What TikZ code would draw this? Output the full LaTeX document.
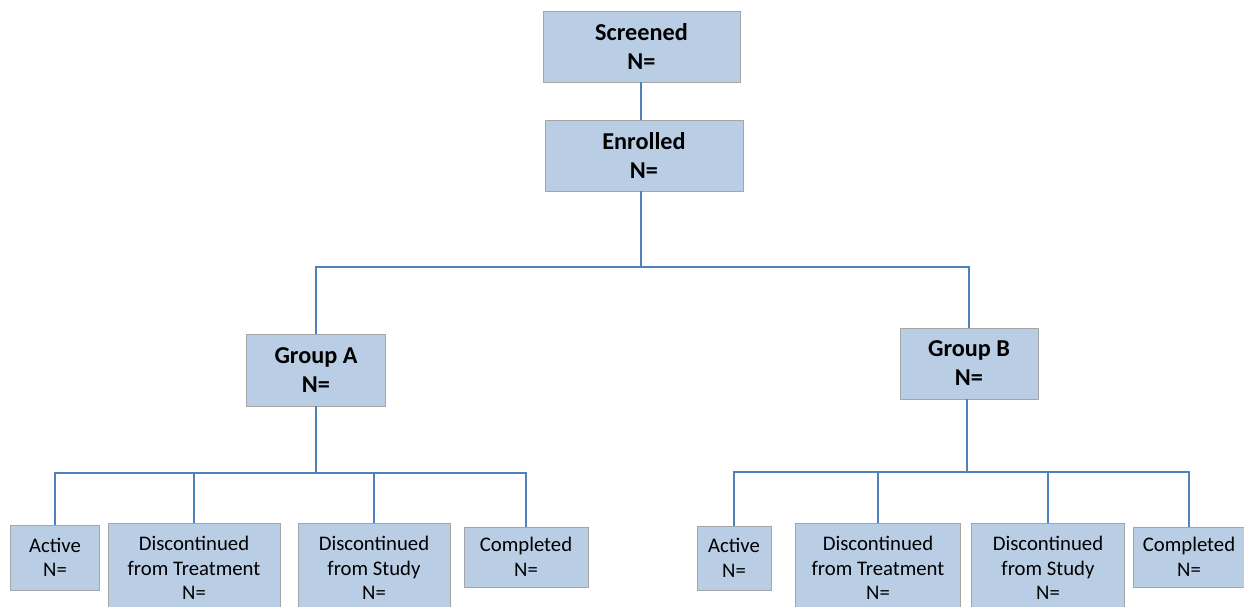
\documentclass[tikz,border=0pt]{standalone}
\usepackage{fontspec}
\setmainfont{Carlito}
\usetikzlibrary{arrows}
\usetikzlibrary{shapes}
\definecolor{boxFill}{HTML}{B9CDE5}
\definecolor{boxLine}{HTML}{A6A6A6}
\definecolor{edgeBlue}{HTML}{4F81BD}

\begin{document}
\begin{tikzpicture}[x = 0.02cm, y = -0.02cm]
	\tikzstyle{BoxStyle} = [shape = rectangle, draw = boxLine, line width = 0.5pt, fill = boxFill, inner sep = 0pt, align = center]
	\tikzstyle{bigStyle} = [BoxStyle, font = \fontsize{13.8}{16.5}\selectfont\bfseries]
	\tikzstyle{smallStyle} = [BoxStyle, font = \fontsize{11.8}{14}\selectfont]
	\tikzstyle{EdgeStyle} = [draw = edgeBlue, line width = 1.1pt]
	\useasboundingbox (0,0) rectangle (1244,606);
	\node[bigStyle, minimum width = 3.94cm, minimum height = 1.42cm] (v0) at (641.5,46.5) {Screened\\N=};
	\node[bigStyle, minimum width = 3.96cm, minimum height = 1.42cm] (v1) at (644,155.5) {Enrolled\\N=};
	\node[bigStyle, minimum width = 2.78cm, minimum height = 1.44cm] (v2) at (316,370) {Group A\\N=};
	\node[bigStyle, minimum width = 2.76cm, minimum height = 1.42cm] (v3) at (969,363.5) {Group B\\N=};
	\node[smallStyle, minimum width = 1.78cm, minimum height = 1.30cm] (v4) at (55,557.5) {Active\\N=};
	\node[smallStyle, minimum width = 3.44cm, minimum height = 1.80cm] (v5) at (194,568) {Discontinued\\from Treatment\\N=};
	\node[smallStyle, minimum width = 3.04cm, minimum height = 1.80cm] (v6) at (374,568) {Discontinued\\from Study\\N=};
	\node[smallStyle, minimum width = 2.48cm, minimum height = 1.20cm] (v7) at (526,557) {Completed\\N=};
	\node[smallStyle, minimum width = 1.48cm, minimum height = 1.28cm] (v8) at (734,558) {Active\\N=};
	\node[smallStyle, minimum width = 3.30cm, minimum height = 1.80cm] (v9) at (878,568) {Discontinued\\from Treatment\\N=};
	\node[smallStyle, minimum width = 3.06cm, minimum height = 1.80cm] (v10) at (1048,568) {Discontinued\\from Study\\N=};
	\node[smallStyle, minimum width = 2.22cm, minimum height = 1.20cm] (v11) at (1189,557) {Completed\\N=};
	\coordinate (j0) at (641,267);
	\coordinate (j1) at (316,473);
	\coordinate (j2) at (967,472);
	\draw[EdgeStyle] (v0.south -| j0) -- (v1.north -| j0);
	\draw[EdgeStyle] (v1.south -| j0) -- (j0);
	\draw[EdgeStyle] (v2) |- (j0) -| (v3);
	\draw[EdgeStyle] (v2.south -| j1) -- (j1);
	\draw[EdgeStyle] (v4) |- (j1) -| (v7);
	\draw[EdgeStyle] (j1 -| v5) -- (v5);
	\draw[EdgeStyle] (j1 -| v6) -- (v6);
	\draw[EdgeStyle] (v3.south -| j2) -- (j2);
	\draw[EdgeStyle] (v8) |- (j2) -| (v11);
	\draw[EdgeStyle] (j2 -| v9) -- (v9);
	\draw[EdgeStyle] (j2 -| v10) -- (v10);
\end{tikzpicture}
\end{document}
